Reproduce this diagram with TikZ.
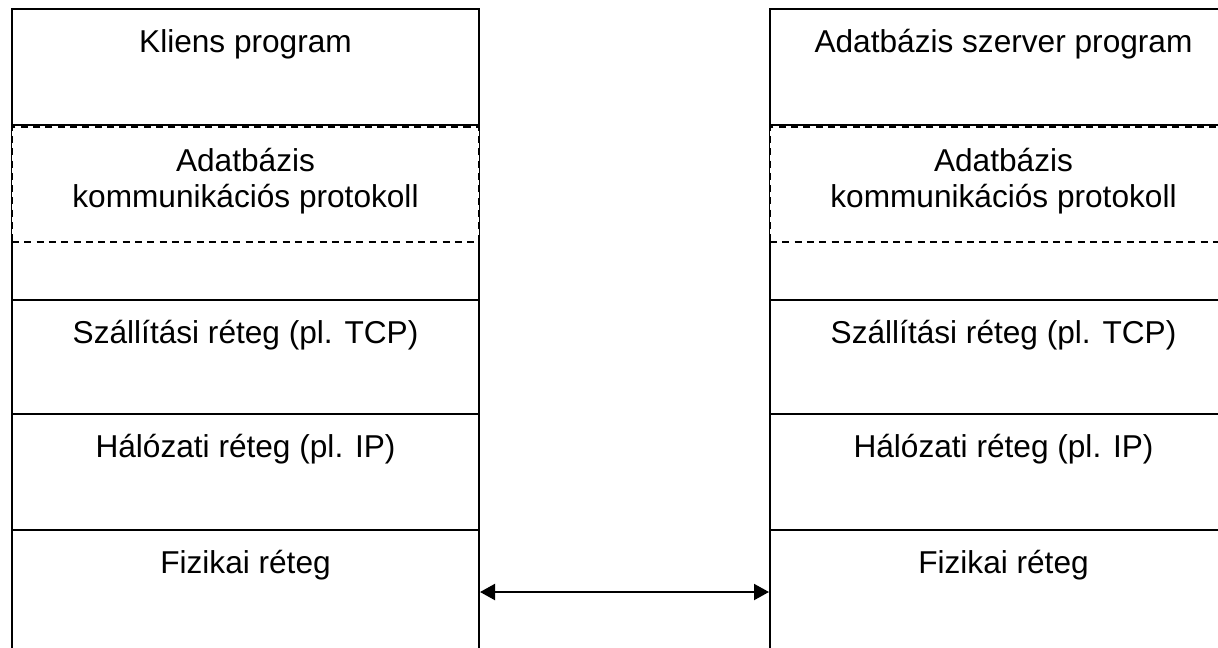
\documentclass[tikz,border=0pt]{standalone}
\usepackage{fontspec}
\setmainfont{Liberation Sans}
\usetikzlibrary{arrows.meta, positioning}
\tikzset{
	layerbox/.style={
			shape=rectangle,
			draw=black,
			line width=1.2pt,
			fill=white,
			minimum width=9.34cm,
			inner sep=0pt
		},
	protobox/.style={
			layerbox,
			line width=0.9pt,
			dash pattern=on 4pt off 3pt,
			minimum height=2.3cm
		},
	layertext/.style={
			anchor=base,
			font=\fontsize{18}{20.5}\selectfont,
			align=center,
			inner sep=0pt
		}
}

\begin{document}
\begin{tikzpicture}[x=0.02cm, y=-0.02cm]
  \useasboundingbox (0,0) rectangle (1218,647);

  % kliens oldal
  \node[layerbox, minimum height=2.32cm] (kprog) at (245.5,67) {};
  \node[layerbox, minimum height=3.5cm] (kszint) at (245.5,212.5) {};
  \node[protobox] (kproto) at (245.5,184.5) {};
  \node[layerbox, minimum height=2.28cm] (kszall) at (245.5,357) {};
  \node[layerbox, minimum height=2.32cm] (khalo) at (245.5,472) {};
  \node[layerbox, minimum height=2.48cm] (kfiz) at (245.5,592) {};

  % szerver oldal
  \node[layerbox, minimum height=2.32cm] (sprog) at (1003.5,67) {};
  \node[layerbox, minimum height=3.5cm] (sszint) at (1003.5,212.5) {};
  \node[protobox] (sproto) at (1003.5,184.5) {};
  \node[layerbox, minimum height=2.28cm] (sszall) at (1003.5,357) {};
  \node[layerbox, minimum height=2.32cm] (shalo) at (1003.5,472) {};
  \node[layerbox, minimum height=2.48cm] (sfiz) at (1003.5,592) {};

  \node[layertext] at ([yshift=-0.9cm]kprog.north) {Kliens program};
  \node[layertext] at ([yshift=-1.62cm]kproto.north) {Adatbázis\\kommunikációs protokoll};
  \node[layertext] at ([yshift=-0.9cm]kszall.north) {Szállítási réteg (pl. TCP)};
  \node[layertext] at ([yshift=-0.9cm]khalo.north) {Hálózati réteg (pl. IP)};
  \node[layertext] at ([yshift=-0.9cm]kfiz.north) {Fizikai réteg};

  \node[layertext] at ([yshift=-0.9cm]sprog.north) {Adatbázis szerver program};
  \node[layertext] at ([yshift=-1.62cm]sproto.north) {Adatbázis\\kommunikációs protokoll};
  \node[layertext] at ([yshift=-0.9cm]sszall.north) {Szállítási réteg (pl. TCP)};
  \node[layertext] at ([yshift=-0.9cm]shalo.north) {Hálózati réteg (pl. IP)};
  \node[layertext] at ([yshift=-0.9cm]sfiz.north) {Fizikai réteg};

  \draw[line width=1.2pt, {Triangle[length=0.3cm, width=0.32cm]}-{Triangle[length=0.3cm, width=0.32cm]}] (kfiz.east) -- (sfiz.west);

\end{tikzpicture}
\end{document}
